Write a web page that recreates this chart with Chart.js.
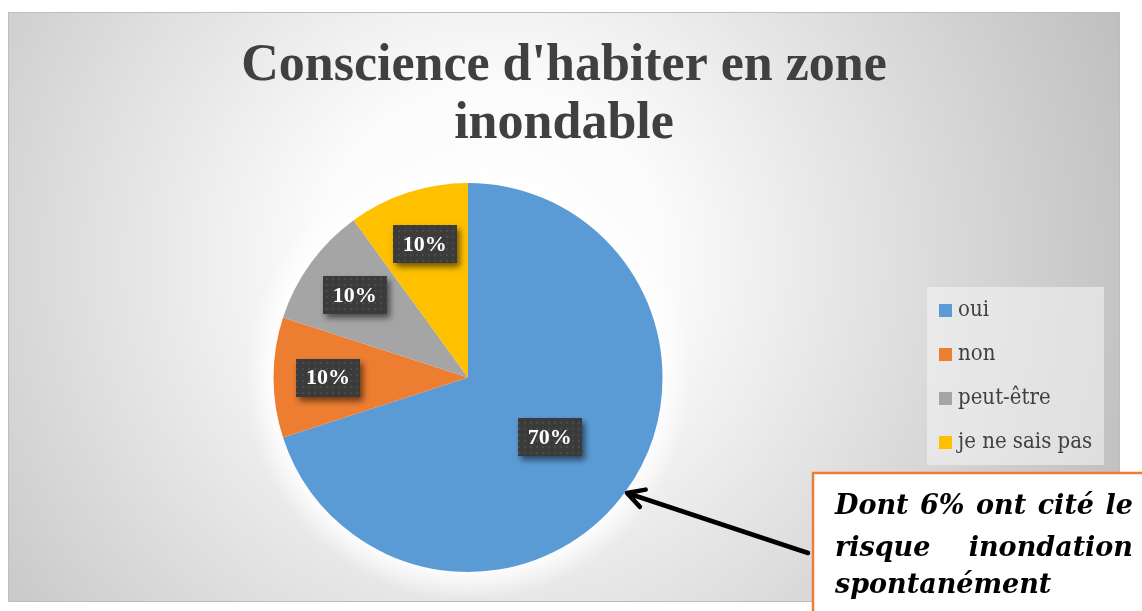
<!DOCTYPE html>
<html>
<head>
<meta charset="utf-8">
<script src="https://cdn.jsdelivr.net/npm/chart.js@4.4.1/dist/chart.umd.min.js"></script>
<style>
  html, body { margin: 0; padding: 0; background: #fff; }
  #wrap { width: 1142px; height: 611px; }
</style>
</head>
<body>
<div id="wrap"><canvas id="mycanvas" width="1142" height="611"></canvas></div>
<script>
// survey answers
var categories = ['oui', 'non', 'peut-être', 'je ne sais pas'];
var shares = [70, 10, 10, 10];
var titleLines = ["Conscience d'habiter en zone", 'inondable'];
var noteLines = ['Dont 6% ont cité le', 'risque inondation', 'spontanément'];

var sliceColors = ['#5B9BD5', '#ED7D31', '#A5A5A5', '#FFC000'];
var serif = '"Liberation Serif", "Times New Roman", serif';
var wideSerif = '"DejaVu Serif Condensed", "DejaVu Serif", serif';

// dotted dark tile used behind the percentage labels
function makeDots(ctx)
{
  var c = document.createElement('canvas');
  c.width = 6; c.height = 6;
  var g = c.getContext('2d');
  g.fillStyle = '#3b3b3b';
  g.fillRect(0, 0, 6, 6);
  g.fillStyle = '#4a4a4a';
  g.fillRect(2, 2, 2, 2);
  return ctx.createPattern(c, 'repeat');
}

function justify(ctx, text, x, y, width)
{
  var words = text.split(' ');
  var used = 0;
  words.forEach(function(w) { used += ctx.measureText(w).width; });
  var gap = words.length > 1 ? (width - used) / (words.length - 1) : 0;
  words.forEach(function(w)
  {
    ctx.fillText(w, x, y);
    x += ctx.measureText(w).width + gap;
  });
}

var decor = {
  id: 'decor',
  beforeDraw: function(chart)
  {
    var ctx = chart.ctx;
    ctx.save();
    ctx.fillStyle = '#ffffff';
    ctx.fillRect(0, 0, chart.width, chart.height);

    // plot frame with soft radial shading
    var grad = ctx.createRadialGradient(490, 260, 0, 490, 260, 700);
    grad.addColorStop(0, '#ffffff');
    grad.addColorStop(0.25, '#fbfbfb');
    grad.addColorStop(1, '#bcbcbc');
    ctx.fillStyle = grad;
    ctx.fillRect(8, 12, 1112, 590);
    ctx.strokeStyle = '#bdbdbd';
    ctx.lineWidth = 1;
    ctx.strokeRect(8.5, 12.5, 1111, 589);

    // light halo round the pie
    var arc = chart.getDatasetMeta(0).data[0];
    if (arc)
    {
      var r = arc.outerRadius;
      var halo = ctx.createRadialGradient(arc.x, arc.y, r - 2, arc.x, arc.y, r + 28);
      halo.addColorStop(0, 'rgba(255,255,255,0.95)');
      halo.addColorStop(1, 'rgba(255,255,255,0)');
      ctx.fillStyle = halo;
      ctx.beginPath();
      ctx.arc(arc.x, arc.y, r + 28, 0, Math.PI * 2);
      ctx.fill();
    }

    // title
    ctx.fillStyle = '#404040';
    ctx.font = 'bold 52px ' + serif;
    ctx.textAlign = 'center';
    ctx.textBaseline = 'alphabetic';
    ctx.fillText(titleLines[0], 564, 80);
    ctx.fillText(titleLines[1], 564, 138);
    ctx.restore();
  },
  afterDatasetsDraw: function(chart)
  {
    var ctx = chart.ctx;
    var meta = chart.getDatasetMeta(0);
    var values = chart.data.datasets[0].data;
    var dots = makeDots(ctx);

    // percentage labels
    ctx.save();
    ctx.font = 'bold 22px ' + serif;
    ctx.textAlign = 'center';
    ctx.textBaseline = 'middle';
    meta.data.forEach(function(arc, i)
    {
      var p = arc.getProps(['x', 'y', 'startAngle', 'endAngle', 'outerRadius'], true);
      var mid = (p.startAngle + p.endAngle) / 2;
      var k = values[i] > 50 ? 0.52 : 0.72;
      var cx = p.x + Math.cos(mid) * p.outerRadius * k;
      var cy = p.y + Math.sin(mid) * p.outerRadius * k;
      var txt = values[i] + '%';
      var w = ctx.measureText(txt).width + 20;
      var h = 38;
      ctx.save();
      ctx.shadowColor = 'rgba(0,0,0,0.55)';
      ctx.shadowBlur = 6;
      ctx.shadowOffsetX = 3;
      ctx.shadowOffsetY = 4;
      ctx.fillStyle = dots;
      ctx.fillRect(Math.round(cx - w / 2), Math.round(cy - h / 2), Math.round(w), h);
      ctx.restore();
      ctx.fillStyle = '#ffffff';
      ctx.fillText(txt, cx, cy + 1);
    });
    ctx.restore();

    // legend
    ctx.save();
    ctx.fillStyle = 'rgba(245,245,245,0.55)';
    ctx.fillRect(927, 287, 177, 178);
    ctx.font = '22px ' + wideSerif;
    ctx.textBaseline = 'middle';
    ctx.textAlign = 'left';
    var items = chart.options.plugins.legend.labels.generateLabels(chart);
    items.forEach(function(item, i)
    {
      var y = 310 + i * 44;
      ctx.fillStyle = item.fillStyle;
      ctx.fillRect(939, y - 6, 13, 13);
      ctx.fillStyle = '#404040';
      ctx.fillText(item.text, 958, y);
    });
    ctx.restore();

    // note box
    ctx.save();
    ctx.fillStyle = '#ffffff';
    ctx.fillRect(813, 473, 340, 150);
    ctx.strokeStyle = '#ED7D31';
    ctx.lineWidth = 2.5;
    ctx.strokeRect(813, 473, 340, 150);
    ctx.fillStyle = '#000000';
    ctx.font = 'italic bold 27px "DejaVu Serif", serif';
    ctx.textBaseline = 'alphabetic';
    justify(ctx, noteLines[0], 835, 514, 298);
    justify(ctx, noteLines[1], 835, 556, 298);
    ctx.fillText(noteLines[2], 835, 593);
    ctx.restore();

    // arrow from the note to the edge of the biggest slice
    var big = meta.data[0].getProps(['x', 'y', 'startAngle', 'endAngle', 'outerRadius'], true);
    var a = (big.startAngle + big.endAngle) / 2;
    var tx = big.x + Math.cos(a) * (big.outerRadius + 2);
    var ty = big.y + Math.sin(a) * (big.outerRadius + 2);
    var sx = 808, sy = 553;
    var ang = Math.atan2(sy - ty, sx - tx);
    ctx.save();
    ctx.strokeStyle = '#000000';
    ctx.lineWidth = 4.5;
    ctx.lineCap = 'round';
    ctx.lineJoin = 'round';
    ctx.beginPath();
    ctx.moveTo(sx, sy);
    ctx.lineTo(tx, ty);
    ctx.moveTo(tx + Math.cos(ang - 0.5) * 19, ty + Math.sin(ang - 0.5) * 19);
    ctx.lineTo(tx, ty);
    ctx.lineTo(tx + Math.cos(ang + 0.5) * 19, ty + Math.sin(ang + 0.5) * 19);
    ctx.stroke();
    ctx.restore();
  }
};

var ctx = document.getElementById('mycanvas');

var pieChart = new Chart(ctx,
{
  type: 'pie',
  data: {
    labels: categories,
    datasets: [
      {
        data: shares,
        backgroundColor: sliceColors,
        borderWidth: 0
      }
    ]
  },
  options: {
    responsive: false,
    animation: false,
    devicePixelRatio: 1,
    layout: { padding: { left: 9, right: 215, top: 183, bottom: 39 } },
    plugins: {
      legend: { display: false },
      title: { display: false },
      tooltip: { enabled: false }
    }
  },
  plugins: [decor]
});
</script>
</body>
</html>
